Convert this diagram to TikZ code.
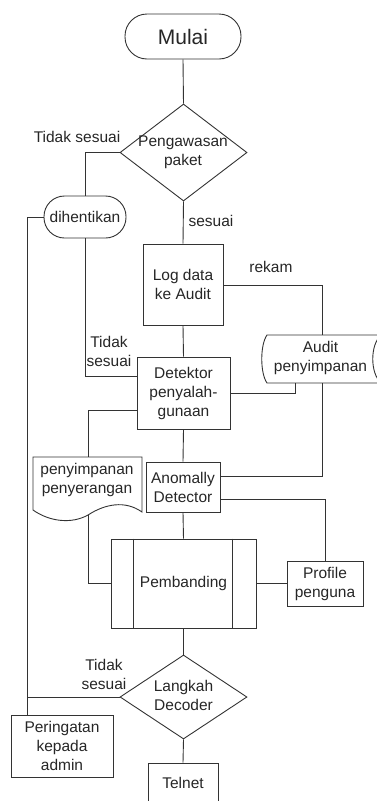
\documentclass[tikz,border=0pt]{standalone}
\usepackage{fontspec}
\setmainfont{Liberation Sans}
\usetikzlibrary{shapes.geometric}

\begin{document}
\begin{tikzpicture}[x=1pt,y=-1pt,
  color=black!80, line width=0.9pt,
  every node/.style={font=\fontsize{15.5}{19}\selectfont, align=center, inner sep=0pt, text=black!85},
  blk/.style={draw, rectangle},
  term/.style={draw, rectangle},
  dec/.style={draw, diamond},
  wire/.style={draw, line width=0.9pt}]

\useasboundingbox (0,0) rectangle (377,801);
\clip (0,0) rectangle (377,801);

% start and first decision
\node[term, minimum width=116, minimum height=45, rounded corners=22,
      font=\fontsize{21}{24}\selectfont] (start) at (183,36.5) {Mulai};
\node[dec, minimum width=127, minimum height=97] (chk) at (183.5,152.5) {};
\node (chkT) at (183,152.5) {Pengawasan\\paket};

\node[term, minimum width=82, minimum height=42, rounded corners=20.5] (stop) at (85,217) {dihentikan};

% main column
\node[blk, minimum width=80, minimum height=81] (log) at (183,284.5) {Log data\\ke Audit};
\node[blk, minimum width=93, minimum height=72] (det) at (183.5,393) {Detektor\\penyalah-\\gunaan};
\node[blk, minimum width=74, minimum height=50] (ano) at (183,487) {Anomally\\Detector};
\node[blk, minimum width=145, minimum height=89] (pem) at (183.5,583.5) {Pembanding};
\draw ([xshift=23pt]pem.north west) -- ([xshift=23pt]pem.south west);
\draw ([xshift=-24pt]pem.north east) -- ([xshift=-24pt]pem.south east);
\node[blk, minimum width=76, minimum height=45] (prof) at (325,583.5) {Profile\\penguna};
\node[dec, minimum width=127, minimum height=84] (dcd) at (183.5,697) {};
\node (dcdT) at (183.5,695) {Langkah\\Decoder};
\node[blk, minimum width=102, minimum height=62] (warn) at (62,746) {Peringatan\\kepada\\admin};
\node[blk, minimum width=70, minimum height=44] (tel) at (183,785) {};
\node (telT) at (183,783) {Telnet};

% stored data: Audit penyimpanan
\draw (267,335) -- (381,335) .. controls (370,345) and (370,373) .. (381,383)
      -- (267,383) .. controls (260,373) and (260,345) .. (267,335) -- cycle;
\node (aud) at (320.5,358) {Audit\\penyimpanan};
\coordinate (audT)  at (322,335);
\coordinate (audB1) at (295,383);
\coordinate (audB2) at (322,383);

% document: penyimpanan penyerangan
\draw (33,457) -- (142,457) -- (142,512)
      .. controls (125,500) and (105,504) .. (88,515)
      .. controls (72,524) and (50,522) .. (33,510) -- cycle;
\node (doc) at (87,480) {penyimpanan\\penyerangan};
\coordinate (docT) at (88,457);
\coordinate (docB) at (88,515);

% attach points
\coordinate (logR)  at (223,285);
\coordinate (detL1) at (137,376);
\coordinate (detL2) at (137,410);
\coordinate (anoR1) at (220,476);
\coordinate (anoR2) at (220,499);
\coordinate (warnT) at (27,715);
\coordinate (jn)    at (27,697);

% connectors
\draw (start.south) -- (chk.north);
\draw (chk.west) -| (stop.north);
\draw (chk.south) -- (log.north);
\draw (logR) -| (audT);
\draw (log.south) -- (det.north);
\draw (stop.south) |- (detL1);
\draw (det.east) -| (audB1);
\draw (detL2) -| (docT);
\draw (det.south) -- (ano.north);
\draw (anoR1) -| (audB2);
\draw (anoR2) -| (prof.north);
\draw (ano.south) -- (pem.north);
\draw (docB) |- (pem.west);
\draw (pem.east) -- (prof.west);
\draw (pem.south) -- (dcd.north);
\draw (stop.west) -| (warnT);
\draw (dcd.west) -- (jn);
\draw (dcd.south) -- (tel.north);

% branch labels
\node (l1) at (77,137) {Tidak sesuai};
\node (l2) at (211,221) {sesuai};
\node (l3) at (271,267) {rekam};
\node (l4) at (109,351) {Tidak\\sesuai};
\node (l5) at (104,674) {Tidak\\sesuai};
\end{tikzpicture}
\end{document}
